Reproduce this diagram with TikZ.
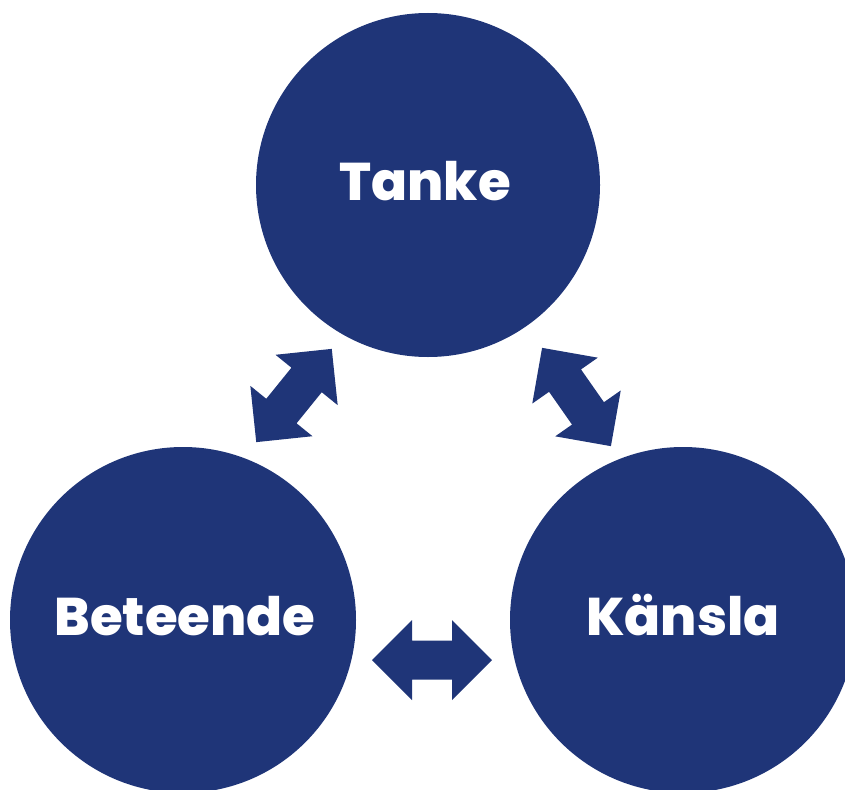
\documentclass[tikz,border=0pt]{standalone}
\usepackage{fontspec}
\setmainfont{Poppins}[BoldFont={Poppins ExtraBold}]
\definecolor{navy}{RGB}{31,53,120}
\tikzset{
  bubble/.style={circle, fill=navy, inner sep=0pt},
  lbl/.style={text=white, font=\fontsize{53}{60}\selectfont\bfseries, anchor=base, inner sep=0pt},
  dblarrow/.style={fill=navy}
}
\newcommand{\dblarrowpath}{(-60,0) -- (-20,40) -- (-20,19.5) -- (20,19.5) -- (20,40) -- (60,0) -- (20,-40) -- (20,-19.5) -- (-20,-19.5) -- (-20,-40) -- cycle}
\begin{document}
\begin{tikzpicture}[x=1pt,y=-1pt]
\useasboundingbox (0,0) rectangle (845,789);
\clip (0,0) rectangle (845,789);
\node[bubble, minimum size=344pt] (tanke) at (428,185) {};
\node[bubble, minimum size=346pt] (beteende) at (183,620) {};
\node[bubble, minimum size=346pt] (kansla) at (683,620) {};
\node[lbl] (tankeT) at (425,200) {Tanke};
\node[lbl] (beteendeT) at (185,635) {Beteende};
\node[lbl] (kanslaT) at (683,635) {Känsla};
\coordinate (a1) at (294,395.5);
\coordinate (a2) at (576.5,397);
\coordinate (a3) at (432,660);
\fill[dblarrow, shift={(a1)}, rotate=51] \dblarrowpath;
\fill[dblarrow, shift={(a2)}, rotate=-55] \dblarrowpath;
\fill[dblarrow, shift={(a3)}] \dblarrowpath;
\end{tikzpicture}
\end{document}
